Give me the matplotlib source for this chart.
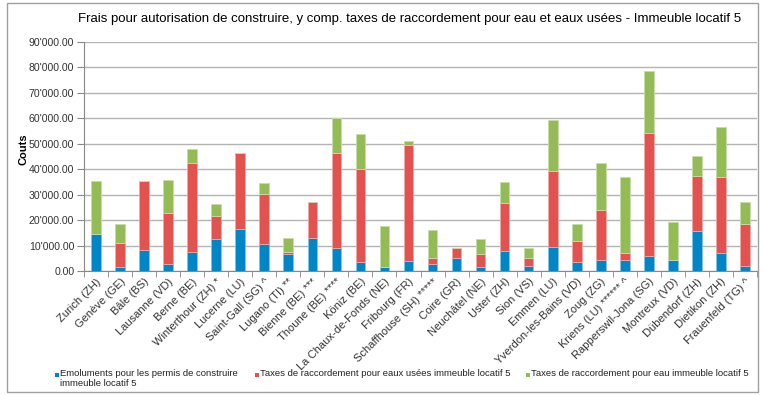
import numpy as np
import matplotlib
matplotlib.use('Agg')
import matplotlib.pyplot as plt
from matplotlib.patches import Rectangle
from matplotlib.ticker import FuncFormatter, FixedLocator

plt.rcParams['font.family'] = ['Liberation Sans', 'DejaVu Sans']

# Data (CHF)
villes = ["Zurich (ZH)", "Genève (GE)", "Bâle (BS)", "Lausanne (VD)", "Berne (BE)",
          "Winterthour (ZH) *", "Lucerne (LU)", "Saint-Gall (SG) ^", "Lugano (TI) **",
          "Bienne (BE) ***", "Thoune (BE) ****", "Köniz (BE)", "La Chaux-de-Fonds (NE)",
          "Fribourg (FR)", "Schaffhouse (SH) *****", "Coire (GR)", "Neuchâtel (NE)",
          "Uster (ZH)", "Sion (VS)", "Emmen (LU)", "Yverdon-les-Bains (VD)", "Zoug (ZG)",
          "Kriens (LU) ****** ^", "Rapperswil-Jona (SG)", "Montreux (VD)",
          "Dübendorf (ZH)", "Dietikon (ZH)", "Frauenfeld (TG) ^"]
emoluments = [14700, 1400, 8200, 2700, 7500, 12500, 16700, 10500, 6600, 12900, 8900, 3400,
              1400, 4000, 2900, 5200, 1400, 7800, 2100, 9500, 3500, 4200, 4200, 5900,
              4400, 15600, 6900, 2100]
eaux_usees = [0, 9800, 27000, 20000, 34800, 9100, 29700, 19800, 800, 14200, 37500, 36800,
              100, 45500, 2300, 3700, 5400, 18900, 3000, 29800, 8300, 19900, 2900, 48400,
              0, 21900, 29900, 16400]
eau = [20800, 7200, 0, 13100, 5700, 4800, 0, 4200, 5500, 0, 13900, 13800,
       16100, 1700, 11100, 0, 5700, 8200, 4000, 20000, 6800, 18200, 29700, 24200,
       14700, 7500, 19900, 8800]
legende = ["Emoluments pour les permis de construire\nimmeuble locatif 5",
           "Taxes de raccordement pour eaux usées immeuble locatif 5",
           "Taxes de raccordement pour eau immeuble locatif 5"]

blue = '#0086C6'
red = '#E2524F'
green = '#93BB56'

W, H = 766, 395
fig = plt.figure(figsize=(W / 100, H / 100), dpi=100)
ax = fig.add_axes([84 / W, 1 - 271 / H, 673 / W, 229 / H])

x = np.arange(len(villes))
e = np.array(emoluments)
u = np.array(eaux_usees)
w = np.array(eau)
bw = 0.4
ax.bar(x, e, bw, color=blue, edgecolor='#7FC2E2', linewidth=0.6, zorder=3)
ax.bar(x, u, bw, bottom=e, color=red, edgecolor='#F0A8A6', linewidth=0.6, zorder=3)
ax.bar(x, w, bw, bottom=e + u, color=green, edgecolor='#C9DDAA', linewidth=0.6, zorder=3)

ax.set_xlim(-0.5, len(villes) - 0.5)
ax.set_ylim(0, 90000)
ax.set_yticks(np.arange(0, 90001, 10000))
ax.yaxis.set_major_formatter(FuncFormatter(lambda v, p: "{:,.2f}".format(v).replace(",", "'")))
ax.grid(axis='y', color='#B4B4B4', linewidth=1, zorder=0)
ax.set_axisbelow(True)

ax.set_xticks(x)
ax.set_xticklabels(villes, rotation=45, ha='right', rotation_mode='anchor', fontsize=8, color='#333333')
ax.tick_params(axis='x', which='major', length=0, pad=4)
ax.xaxis.set_minor_locator(FixedLocator(np.arange(-0.5, len(villes), 1)))
ax.tick_params(axis='x', which='minor', length=4, color='#888888')
ax.tick_params(axis='y', length=5, color='#888888', labelsize=7.6, labelcolor='#333333', pad=2)

for s in ['top', 'right']:
    ax.spines[s].set_visible(False)
ax.spines['left'].set_color('#888888')
ax.spines['bottom'].set_color('#888888')

ax.set_ylabel("Couts", fontsize=8, fontweight='bold')
ax.yaxis.set_label_coords(-0.082, 0.53)

fig.text(0.535, 0.953, "Frais pour autorisation de construire, y comp. taxes de raccordement pour eau et eaux usées - Immeuble locatif 5",
         ha='center', va='center', fontsize=9.5)

# legend drawn by hand: small squares + text
for lx, col, lab in zip([55, 255, 526], [blue, red, green], legende):
    fig.patches.append(Rectangle((lx / W, 1 - 377 / H), 4 / W, 4 / H, transform=fig.transFigure,
                                 facecolor=col, edgecolor='none'))
    fig.text((lx + 5) / W, 1 - 369.5 / H, lab, ha='left', va='top', fontsize=6.8,
             color='#222222', linespacing=1.05)

fig.patches.append(Rectangle((7 / W, 3 / H), 751 / W, 389 / H, transform=fig.transFigure,
                             fill=False, edgecolor='#A0A0A0', linewidth=1))

fig.savefig("out.png", dpi=100)
